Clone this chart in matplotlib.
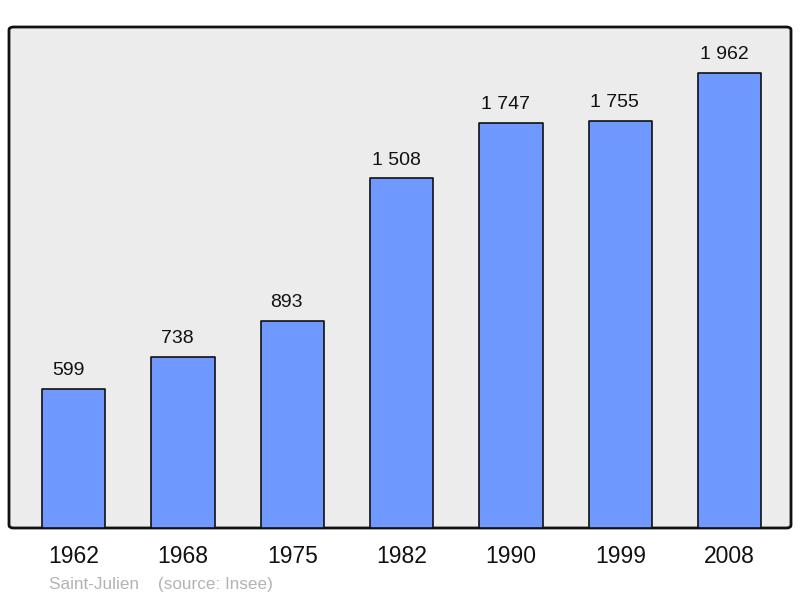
import matplotlib
matplotlib.use("Agg")
import matplotlib.pyplot as plt
from matplotlib.patches import FancyBboxPatch

plt.rcParams['font.family'] = ['Liberation Sans', 'DejaVu Sans']

years = ["1962", "1968", "1975", "1982", "1990", "1999", "2008"]
population = [599, 738, 893, 1508, 1747, 1755, 1962]
value_labels = ["599", "738", "893", "1 508", "1 747", "1 755", "1 962"]

fig = plt.figure(figsize=(8, 5.98), dpi=100)
ax = fig.add_axes([9 / 800, 70 / 598, 782 / 800, 501 / 598])
ax.set_facecolor("none")

# rounded grey frame
frame = FancyBboxPatch((0, 0), 1, 1, boxstyle="round,pad=0,rounding_size=0.006",
                       transform=ax.transAxes, facecolor="#ececec",
                       edgecolor="#111111", linewidth=2, zorder=0, clip_on=False)
ax.add_patch(frame)

x = range(len(years))
bars = ax.bar(x, population, width=0.58, color="#7099ff", edgecolor="#111111",
              linewidth=1.2, zorder=2)
for b in bars:
    b.set_joinstyle("round")

for xi, v, lab in zip(x, population, value_labels):
    ax.annotate(lab, (xi, v), xytext=(-4, 7), textcoords="offset points",
                ha="center", va="bottom", fontsize=14, color="#111111")

ax.set_xlim(-0.59, 6.56)
ax.set_ylim(0, 2160)
for s in ax.spines.values():
    s.set_visible(False)
ax.set_yticks([])
ax.set_xticks(list(x))
ax.set_xticklabels(years, fontsize=16.5, color="#111111")
ax.tick_params(axis="x", length=0, pad=12.5)

fig.text(49 / 800, 1 - 584 / 598, "Saint-Julien    (source: Insee)",
         fontsize=12.3, color="#b3b3b3", ha="left", va="center")

fig.savefig("out.png", dpi=100)
